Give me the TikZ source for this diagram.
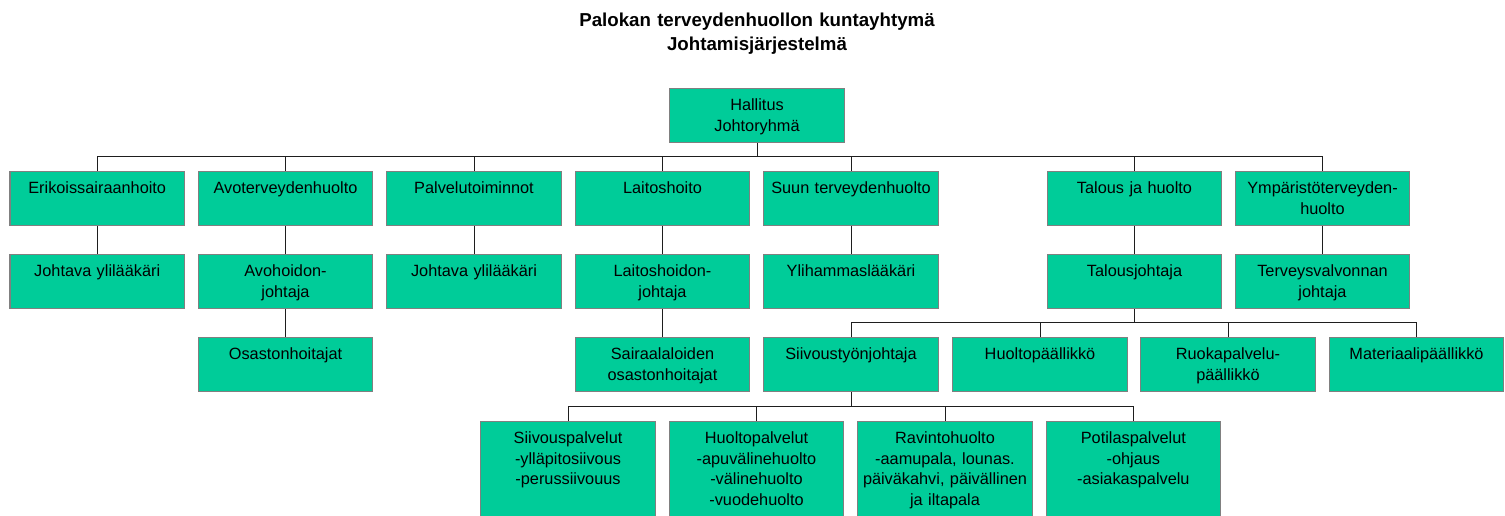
\documentclass[tikz,border=0pt]{standalone}
\usepackage{fontspec}
\setmainfont{Liberation Sans}
\definecolor{boxgreen}{RGB}{0,204,153}
\definecolor{boxedge}{RGB}{128,128,128}
\definecolor{wire}{RGB}{30,30,30}

\begin{document}
\begin{tikzpicture}[x=1pt,y=-1pt,
  unit/.style={draw=boxedge, line width=1.1pt, fill=boxgreen, anchor=north,
    inner sep=0pt, text width=174.5pt, align=center,
    text height=22pt, text depth=32.3pt,
    font=\fontsize{16.3}{20.7}\selectfont},
  service/.style={unit, text depth=90pt},
  wireline/.style={draw=wire, line width=1pt},
  heading/.style={anchor=north, inner sep=0pt, text width=500pt, align=center,
    text height=26.5pt, font=\fontsize{18.7}{23.5}\selectfont\bfseries}
]
\useasboundingbox (0,0) rectangle (1505,516);
\clip (0,0) rectangle (1505,516);

% title
\node[heading] (title) at (757,0) {Palokan terveydenhuollon kuntayhtymä\\Johtamisjärjestelmä};

% top management
\node[unit] (hal) at (757,88) {Hallitus\\Johtoryhmä};

% departments
\node[unit] (eri) at (97.2,171)  {Erikoissairaanhoito};
\node[unit] (avo) at (285.5,171) {Avoterveydenhuolto};
\node[unit] (pal) at (474,171)   {Palvelutoiminnot};
\node[unit] (lai) at (662.5,171) {Laitoshoito};
\node[unit] (suu) at (851,171)   {Suun terveydenhuolto};
\node[unit] (tal) at (1134.5,171){Talous ja huolto};
\node[unit] (ymp) at (1322.5,171){Ympäristöterveyden-\\huolto};

% department heads
\node[unit] (joh1) at (97.2,254)  {Johtava ylilääkäri};
\node[unit] (avoj) at (285.5,254) {Avohoidon-\\johtaja};
\node[unit] (joh2) at (474,254)   {Johtava ylilääkäri};
\node[unit] (laij) at (662.5,254) {Laitoshoidon-\\johtaja};
\node[unit] (yli)  at (851,254)   {Ylihammaslääkäri};
\node[unit] (talj) at (1134.5,254){Talousjohtaja};
\node[unit] (ter)  at (1322.5,254){Terveysvalvonnan\\johtaja};

% third level
\node[unit] (osa) at (285.5,337)  {Osastonhoitajat};
\node[unit] (sai) at (662.5,337)  {Sairaalaloiden\\osastonhoitajat};
\node[unit] (sii) at (851,337)    {Siivoustyönjohtaja};
\node[unit] (huo) at (1040,337)   {Huoltopäällikkö};
\node[unit] (ruo) at (1228,337)   {Ruokapalvelu-\\päällikkö};
\node[unit] (mat) at (1416.5,337) {Materiaalipäällikkö};

% services
\node[service] (sp) at (568,421)    {Siivouspalvelut\\-ylläpitosiivous\\-perussiivouus};
\node[service] (hp) at (756.5,421)  {Huoltopalvelut\\-apuvälinehuolto\\-välinehuolto\\-vuodehuolto};
\node[service] (rh) at (945,421)    {Ravintohuolto\\-aamupala, lounas.\\päiväkahvi, päivällinen\\ja iltapala};
\node[service] (pp) at (1133.4,421) {Potilaspalvelut\\-ohjaus\\-asiakaspalvelu};

% bus levels
\coordinate (busA) at (0,156.7);
\coordinate (busB) at (0,322.7);
\coordinate (busC) at (0,406);

% connectors: board to departments
\draw[wireline] (hal.south) -- (hal.south |- busA);
\draw[wireline] (eri.north |- busA) -- (ymp.north |- busA);
\foreach \n in {eri,avo,pal,lai,suu,tal,ymp}
  \draw[wireline] (\n.north) -- (\n.north |- busA);

% connectors: single lines
\draw[wireline] (eri.south) -- (joh1.north);
\draw[wireline] (avo.south) -- (avoj.north);
\draw[wireline] (avoj.south) -- (osa.north);
\draw[wireline] (pal.south) -- (joh2.north);
\draw[wireline] (lai.south) -- (laij.north);
\draw[wireline] (laij.south) -- (sai.north);
\draw[wireline] (suu.south) -- (yli.north);
\draw[wireline] (tal.south) -- (talj.north);
\draw[wireline] (ymp.south) -- (ter.north);

% connectors: finance director to managers
\draw[wireline] (talj.south) -- (talj.south |- busB);
\draw[wireline] (sii.north |- busB) -- (mat.north |- busB);
\foreach \n in {sii,huo,ruo,mat}
  \draw[wireline] (\n.north) -- (\n.north |- busB);

% connectors: cleaning supervisor to services
\draw[wireline] (sii.south) -- (sii.south |- busC);
\draw[wireline] (sp.north |- busC) -- (pp.north |- busC);
\foreach \n in {sp,hp,rh,pp}
  \draw[wireline] (\n.north) -- (\n.north |- busC);
\end{tikzpicture}
\end{document}
